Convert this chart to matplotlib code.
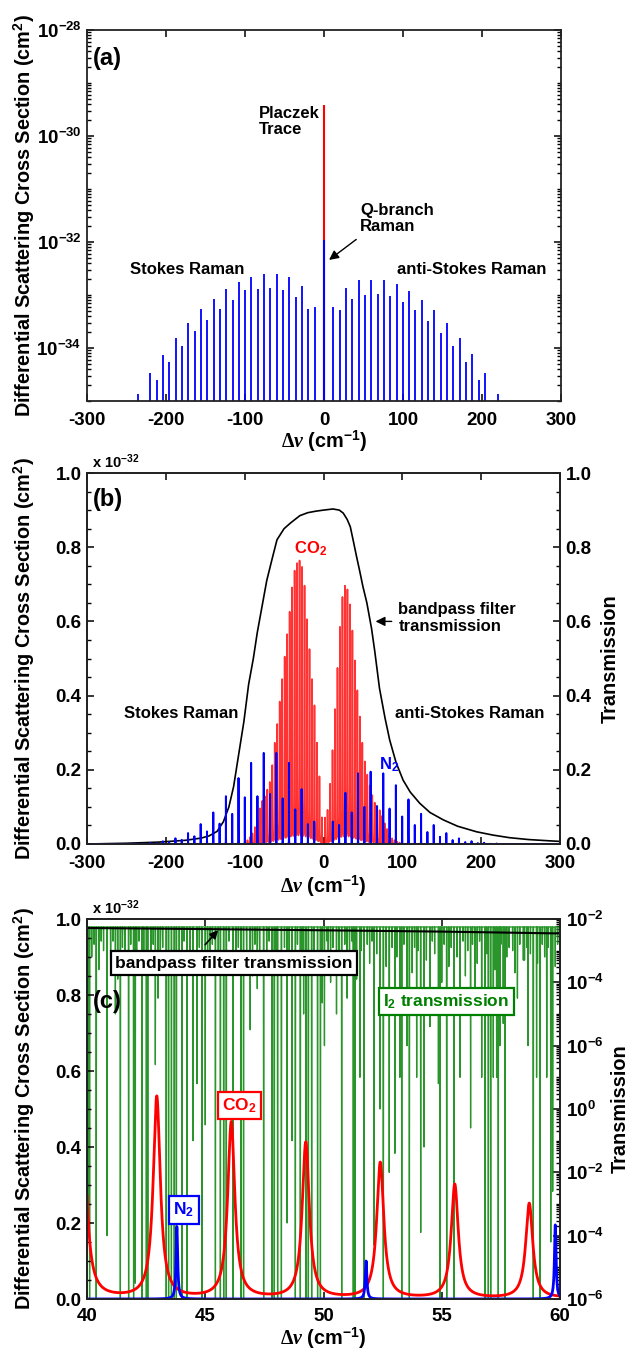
import numpy as np
import matplotlib
matplotlib.use('Agg')
import matplotlib.pyplot as plt
from matplotlib.ticker import FixedLocator, FixedFormatter, MultipleLocator, LogLocator, NullFormatter

plt.rcParams.update({
    'font.family': ['Liberation Sans', 'DejaVu Sans'],
    'font.weight': 'bold',
    'axes.unicode_minus': False,
    'mathtext.fontset': 'custom',
    'mathtext.rm': 'Liberation Serif',
    'mathtext.it': 'Liberation Serif:italic',
    'mathtext.bf': 'Liberation Sans:bold',
    'mathtext.default': 'bf',
})

# ---------------- data ----------------
# N2 rotational Raman line positions (cm-1, magnitude of shift)
n2_shift = [11.8, 19.8, 27.8, 35.8, 43.8, 51.8, 59.8, 67.8, 75.8, 83.8, 91.8, 99.8,
            107.8, 115.8, 123.8, 131.8, 139.8, 147.8, 155.8, 163.8, 171.8, 179.8,
            187.8, 195.8, 203.8, 211.8, 219.8, 227.8, 235.8]
# log10 cross sections (cm2) of N2 Stokes lines (negative shift)
n2_stokes_log = [-33.22, -33.27, -32.83, -33.03, -32.66, -32.91, -32.61, -32.87, -32.61,
                 -32.89, -32.66, -32.90, -32.75, -33.09, -32.89, -33.26, -33.07, -33.47,
                 -33.27, -33.68, -33.53, -33.96, -33.81, -34.27, -34.13, -34.60, -34.48,
                 -35.20, -34.87]
# log10 cross sections of N2 anti-Stokes lines (positive shift)
n2_anti_log = [-33.22, -33.29, -32.86, -33.07, -32.72, -33.00, -32.71, -32.99, -32.72,
               -33.02, -32.80, -33.13, -32.92, -33.29, -33.09, -33.49, -33.29, -33.71,
               -33.53, -33.97, -33.82, -34.27, -34.12, -34.60, -34.47, -35.20, -34.86]
n2_q_branch = 1.1e-32
placzek_trace = 3.8e-30

# CO2 rotational Raman line positions (cm-1, magnitude)
co2_shift = [2.0, 5.15, 8.3, 11.45, 14.6, 17.75, 20.9, 24.05, 27.2, 30.35, 33.5, 36.65,
             39.8, 42.95, 46.1, 49.25, 52.4, 55.55, 58.7, 61.85, 65.0, 68.15, 71.3, 74.45,
             77.6, 80.75, 83.9, 87.05, 90.2, 93.35, 96.5, 99.65]
# panel (b) heights, units of 1e-32 cm2
co2_stokes_b = [0.07, 0.18, 0.27, 0.37, 0.44, 0.52, 0.60, 0.69, 0.74, 0.757, 0.75, 0.73,
                0.685, 0.62, 0.56, 0.50, 0.44, 0.38, 0.32, 0.27, 0.21, 0.165, 0.145, 0.127,
                0.115, 0.095, 0.065, 0.045, 0.028, 0.018, 0.010, 0.006]
co2_anti_b = [0.07, 0.09, 0.16, 0.25, 0.36, 0.47, 0.58, 0.66, 0.69, 0.68, 0.64, 0.57,
              0.49, 0.41, 0.34, 0.27, 0.22, 0.185, 0.155, 0.13, 0.11, 0.10, 0.09, 0.075,
              0.055, 0.04, 0.025, 0.015, 0.010, 0.006, 0.004, 0.002]
# panel (c) zoomed CO2 anti-Stokes lines
co2_c_pos = [36.65, 39.8, 42.95, 46.1, 49.25, 52.4, 55.55, 58.7, 61.85]
co2_c_height = [0.66, 0.60, 0.53, 0.463, 0.41, 0.357, 0.30, 0.25, 0.21]
co2_hwhm = 0.18
n2_hwhm = 0.04

# bandpass filter transmission (panel b)
filt_x = [-300, -250, -210, -175, -155, -145, -135, -127, -120, -114, -108, -101, -95,
          -89, -84, -78, -72, -65, -59, -50, -42, -30, -20, -10, 0, 12, 20, 25, 30, 34,
          38, 42, 46, 50, 55, 61, 65, 71, 78, 84, 92, 101, 110, 122, 135, 152, 170, 194,
          215, 236, 260, 291, 300]
filt_t = [0.0, 0.002, 0.005, 0.010, 0.016, 0.022, 0.034, 0.06, 0.10, 0.155, 0.236, 0.33,
          0.43, 0.50, 0.57, 0.64, 0.71, 0.77, 0.82, 0.85, 0.865, 0.885, 0.893, 0.897, 0.90,
          0.903, 0.90, 0.892, 0.875, 0.855, 0.815, 0.774, 0.735, 0.694, 0.65, 0.58, 0.52,
          0.42, 0.34, 0.28, 0.22, 0.172, 0.14, 0.11, 0.085, 0.065, 0.048, 0.033, 0.024,
          0.017, 0.012, 0.008, 0.007]
# filter transmission as drawn in panel (c) (right log axis)
filt_c_x = [40, 45, 50, 55, 60]
filt_c_t = [0.52, 0.48, 0.44, 0.40, 0.35]

# I2 cell transmission (panel c): baseline level and absorption dips
i2_base = 0.56
# strong I2 lines, minimum transmission below the axis floor
i2_strong_pos = [40.11, 40.39, 41.41, 41.76, 41.97, 42.33, 42.51, 42.57, 43.35, 43.45,
                 43.57, 43.69, 43.78, 44.02, 44.23, 44.86, 45.43, 45.64, 45.78, 45.89,
                 46.17, 46.51, 46.62, 47.47, 47.82, 47.92, 48.06, 48.22, 48.81, 49.02,
                 49.26, 49.36, 49.50, 49.75, 49.87, 50.77, 51.26, 51.33, 51.71, 52.53,
                 53.31, 53.63, 54.93, 55.21, 55.52, 56.83, 56.97, 57.07, 57.39, 57.67,
                 58.87, 59.15]
# medium I2 lines: position and log10 of minimum transmission
i2_mid_pos = [40.05, 40.85, 41.20, 42.04, 42.89, 43.00, 44.48, 44.65, 45.00, 46.90,
              47.20, 48.46, 48.67, 49.16, 49.95, 50.04, 50.30, 50.55, 51.00, 51.54,
              52.14, 52.39, 52.78, 53.02, 53.23, 53.53, 53.94, 54.11, 54.25, 54.50,
              54.86, 55.00, 55.77, 56.22, 56.40, 56.69, 57.18, 57.32, 57.46, 57.60,
              58.20, 58.45, 58.65, 59.01, 59.44, 59.61, 59.69]
i2_mid_log = [-9.0, -10.0, -3.0, -11.5, -4.6, -2.5, -7.0, -5.2, -6.5, -3.5,
              -2.2, -9.6, -7.0, -3.0, -2.65, -4.0, -2.0, -3.0, -2.5, -5.0,
              -10.3, -6.0, -8.0, -7.4, -5.0, -4.0, -5.0, -9.9, -7.2, -3.4,
              -5.2, -2.0, -5.0, -6.6, -2.8, -5.0, -5.0, -5.0, -4.0, -3.3,
              -2.5, -1.3, -4.0, -5.0, -5.0, -10.2, -8.6]
# weak I2 lines near the top of the scale
i2_weak_pos = [40.2, 40.3, 40.5, 40.6, 40.7, 41.0, 41.1, 41.3, 41.5, 41.6, 41.85, 42.1,
               42.2, 42.4, 42.7, 42.8, 43.1, 43.2, 43.9, 44.1, 44.35, 44.75, 45.1, 45.2,
               45.3, 45.55, 46.0, 46.3, 46.4, 46.75, 47.0, 47.1, 47.3, 47.6, 47.7, 48.0,
               48.35, 48.55, 48.9, 49.1, 49.6, 50.15, 50.2, 50.4, 50.65, 50.9, 51.1, 51.2,
               51.4, 51.6, 51.85, 51.95, 52.05, 52.25, 52.65, 52.9, 53.1, 53.4, 53.75, 53.85,
               54.0, 54.35, 54.6, 54.7, 55.1, 55.3, 55.4, 55.65, 55.9, 56.0, 56.1, 56.3,
               56.5, 56.6, 56.9, 57.25, 57.5, 57.75, 57.85, 58.0, 58.1, 58.3, 58.5, 58.6,
               58.75, 59.05, 59.25, 59.35, 59.5, 59.8, 59.9]
i2_weak_log = [-1.2, -0.8, -1.6, -0.7, -1.0, -1.4, -0.7, -1.9, -0.9, -1.1, -0.8, -1.5,
               -0.7, -1.0, -1.3, -0.8, -1.7, -0.9, -1.1, -0.7, -1.4, -0.9, -1.0, -1.6,
               -0.8, -1.2, -0.7, -1.3, -0.9, -1.1, -1.8, -0.8, -1.0, -1.4, -0.7, -1.2,
               -0.9, -1.5, -0.8, -1.1, -1.0, -0.7, -1.3, -0.9, -1.6, -0.8, -1.2, -0.7,
               -1.9, -1.0, -0.8, -1.4, -0.7, -1.1, -1.5, -0.9, -1.2, -0.8, -1.7, -0.9,
               -1.0, -1.3, -0.7, -1.1, -0.8, -1.5, -0.9, -1.2, -0.7, -1.8, -1.0, -0.8,
               -1.4, -0.7, -1.1, -1.6, -0.8, -1.2, -0.9, -1.0, -1.7, -0.8, -1.3, -0.9,
               -1.1, -1.4, -0.8, -1.2, -0.9, -1.5, -0.8]
i2_floor_log = -14.0

# ---------------- helpers ----------------
def lorentz_sum(x, pos, height, hwhm):
    y = np.zeros_like(x)
    for p, h in zip(pos, height):
        y += h * hwhm**2 / ((x - p)**2 + hwhm**2)
    return y

def dip_trace(xmin, xmax, base, pos, logmin, hw=0.012):
    items = sorted(zip(pos, logmin))
    xs, ys = [xmin], [base]
    for p, lm in items:
        xs += [p - hw, p, p + hw]
        ys += [base, 10.0**lm, base]
    xs.append(xmax); ys.append(base)
    return np.array(xs), np.array(ys)

def bold_pow(exp):
    return r'$\mathbf{10^{%d}}$' % exp

XLABEL = r'$\mathrm{\Delta}\mathit{\nu}$ (cm$^{\mathbf{-1}}$)'
YLABEL = r'Differential Scattering Cross Section (cm$^{\mathbf{2}}$)'
TICK_FS = 13.5
LAB_FS = 14.3
ANN_FS = 12

fig = plt.figure(figsize=(6.28, 13.49), dpi=100)
W, H = 628.0, 1349.0
def rect(l, t, r, b):
    return [l / W, 1 - b / H, (r - l) / W, (b - t) / H]

axa = fig.add_axes(rect(87, 30, 561, 401))
axb = fig.add_axes(rect(87, 473, 560, 844))
axc = fig.add_axes(rect(87, 919, 560, 1299))

def style(ax, xpad=8):
    for s in ax.spines.values():
        s.set_linewidth(1.3)
        s.set_color('#222222')
    ax.tick_params(direction='in', labelsize=TICK_FS, width=1.1, length=5, pad=4)
    ax.tick_params(axis='x', pad=xpad)
    ax.tick_params(which='minor', direction='in', width=1.0, length=3)
    for lab in ax.get_xticklabels() + ax.get_yticklabels():
        lab.set_fontweight('bold')

def left_label(ax):
    ax.set_ylabel(YLABEL, fontsize=LAB_FS, fontweight='bold')
    ax.yaxis.set_label_coords(-0.106, 0.5)

def right_label(ax, x):
    ax.set_ylabel('Transmission', fontsize=LAB_FS, fontweight='bold')
    ax.yaxis.set_label_coords(x, 0.5)

def x_label(ax, y):
    ax.set_xlabel(XLABEL, fontsize=LAB_FS, fontweight='bold')
    ax.xaxis.set_label_coords(0.5, y)
    ax.xaxis.label.set_va('center')

# ---------------- panel (a) ----------------
ymin_a = 1e-36
sx = -np.array(n2_shift)
ax_x = np.array(n2_shift[:len(n2_anti_log)])
axa.vlines(sx, ymin_a, 10.0**np.array(n2_stokes_log), color='blue', lw=1.3)
axa.vlines(ax_x, ymin_a, 10.0**np.array(n2_anti_log), color='blue', lw=1.3)
axa.vlines([0], ymin_a, [placzek_trace], color='red', lw=1.5)
axa.vlines([0], ymin_a, [n2_q_branch], color='blue', lw=1.5)
axa.set_yscale('log')
axa.set_xlim(-300, 300)
axa.set_ylim(1e-35, 1e-28)
axa.set_xticks([-300, -200, -100, 0, 100, 200, 300])
axa.set_xticklabels(['-300', '-200', '-100', '0', '100', '200', '300'])
axa.yaxis.set_major_locator(FixedLocator([1e-34, 1e-32, 1e-30, 1e-28]))
axa.yaxis.set_major_formatter(FixedFormatter([bold_pow(-34), bold_pow(-32), bold_pow(-30), bold_pow(-28)]))
axa.yaxis.set_minor_locator(LogLocator(base=10, subs=np.arange(1, 10), numticks=50))
axa.yaxis.set_minor_formatter(NullFormatter())
axa.tick_params(top=True, right=True, which='both')
style(axa)
left_label(axa)
x_label(axa, -0.108)
axa.text(0.012, 0.955, '(a)', transform=axa.transAxes, fontsize=17, fontweight='bold', va='top')
axa.text(-83, 10**-29.73, 'Placzek\nTrace', fontsize=ANN_FS, fontweight='bold', va='center', ha='left', linespacing=1.1)
axa.text(45.6, 10**-31.56, 'Q-branch\nRaman', fontsize=ANN_FS, fontweight='bold', va='center', ha='left', linespacing=1.1)
axa.annotate('', xy=(3.6, 10**-32.37), xytext=(43.6, 10**-31.92),
             arrowprops=dict(arrowstyle='-|>', color='black', lw=1.0, mutation_scale=14))
axa.text(-173, 10**-32.52, 'Stokes Raman', fontsize=ANN_FS, fontweight='bold', ha='center', va='center')
axa.text(187, 10**-32.52, 'anti-Stokes Raman', fontsize=ANN_FS, fontweight='bold', ha='center', va='center')

# ---------------- panel (b) ----------------
xb = np.arange(-300, 300.0001, 0.01)
co2_pos_all = list(-np.array(co2_shift)) + list(co2_shift)
co2_h_all = list(co2_stokes_b) + list(co2_anti_b)
n2_pos_all = list(-np.array(n2_shift)) + list(n2_shift[:len(n2_anti_log)])
n2_h_all = list(10.0**(np.array(n2_stokes_log) + 32)) + list(10.0**(np.array(n2_anti_log) + 32))
yb_co2 = lorentz_sum(xb, co2_pos_all, co2_h_all, co2_hwhm)
yb_n2 = lorentz_sum(xb, n2_pos_all, n2_h_all, n2_hwhm)

axb2 = axb.twinx()
axb2.plot(filt_x, filt_t, color='black', lw=1.2)
axb2.set_ylim(0, 1)
axb.set_zorder(axb2.get_zorder() + 1)
axb.patch.set_visible(False)
axb.plot(xb, yb_co2, color='red', lw=1.2, alpha=0.8)
axb.plot(xb, yb_n2, color='blue', lw=1.4)
axb.set_xlim(-300, 300)
axb.set_ylim(0, 1)
axb.set_xticks([-300, -200, -100, 0, 100, 200, 300])
axb.set_xticklabels(['-300', '-200', '-100', '0', '100', '200', '300'])
axb.set_yticks([0, 0.2, 0.4, 0.6, 0.8, 1.0])
axb.set_yticklabels(['0.0', '0.2', '0.4', '0.6', '0.8', '1.0'])
axb.yaxis.set_minor_locator(MultipleLocator(0.05))
axb.tick_params(top=True, which='both')
axb2.set_yticks([0, 0.2, 0.4, 0.6, 0.8, 1.0])
axb2.set_yticklabels(['0.0', '0.2', '0.4', '0.6', '0.8', '1.0'])
axb2.yaxis.set_minor_locator(MultipleLocator(0.05))
style(axb); style(axb2)
left_label(axb)
right_label(axb2, 1.087)
x_label(axb, -0.113)
axb.text(0.012, 0.96, '(b)', transform=axb.transAxes, fontsize=17, fontweight='bold', va='top')
axb.text(0.01, 1.005, r'x 10$^{\mathbf{-32}}$', transform=axb.transAxes, fontsize=10.5, fontweight='bold', va='bottom')
axb.text(-17, 0.795, r'CO$_{\mathbf{2}}$', color='red', fontsize=ANN_FS, fontweight='bold', ha='center', va='center')
axb.text(83, 0.213, r'N$_{\mathbf{2}}$', color='blue', fontsize=ANN_FS, fontweight='bold', ha='center', va='center')
axb.text(-181, 0.353, 'Stokes Raman', fontsize=ANN_FS, fontweight='bold', ha='center', va='center')
axb.text(185, 0.353, 'anti-Stokes Raman', fontsize=ANN_FS, fontweight='bold', ha='center', va='center')
axb.text(95, 0.61, 'bandpass filter\ntransmission', fontsize=ANN_FS, fontweight='bold', ha='left', va='center', linespacing=1.15)
axb.annotate('', xy=(62.5, 0.6), xytext=(90, 0.6),
             arrowprops=dict(arrowstyle='-|>', color='black', lw=1.0, mutation_scale=14))

# ---------------- panel (c) ----------------
xc = np.arange(40, 60.0001, 0.002)
yc_co2 = lorentz_sum(xc, co2_c_pos, co2_c_height, co2_hwhm)
yc_n2 = lorentz_sum(xc, n2_shift[:len(n2_anti_log)], 10.0**(np.array(n2_anti_log) + 32), n2_hwhm)

axc2 = axc.twinx()
i2x_all = list(i2_strong_pos) + list(i2_mid_pos) + list(i2_weak_pos)
i2l_all = [i2_floor_log] * len(i2_strong_pos) + list(i2_mid_log) + list(i2_weak_log)
gx, gy = dip_trace(40, 60, i2_base, i2x_all, i2l_all)
axc2.plot(gx, gy, color='#138a13', lw=0.95, alpha=0.9)
axc2.plot(filt_c_x, filt_c_t, color='black', lw=1.5)
axc2.set_yscale('log')
axc2.set_ylim(1e-12, 1)
axc2.yaxis.set_major_locator(FixedLocator([1e-12, 1e-10, 1e-8, 1e-6, 1e-4, 1e-2, 1e0]))
axc2.yaxis.set_major_formatter(FixedFormatter([bold_pow(-6), bold_pow(-4), bold_pow(-2), bold_pow(0),
                                               bold_pow(-6), bold_pow(-4), bold_pow(-2)]))
axc2.yaxis.set_minor_locator(LogLocator(base=10, subs=np.arange(1, 10), numticks=50))
axc2.yaxis.set_minor_formatter(NullFormatter())
axc.set_zorder(axc2.get_zorder() + 1)
axc.patch.set_visible(False)
axc.plot(xc, yc_co2, color='red', lw=2.0)
axc.plot(xc, yc_n2, color='blue', lw=2.0)
axc.set_xlim(40, 60)
axc.set_ylim(0, 1)
axc.set_xticks([40, 45, 50, 55, 60])
axc.set_yticks([0, 0.2, 0.4, 0.6, 0.8, 1.0])
axc.set_yticklabels(['0.0', '0.2', '0.4', '0.6', '0.8', '1.0'])
axc.yaxis.set_minor_locator(MultipleLocator(0.05))
axc.tick_params(top=True, which='major')
style(axc, xpad=6.5); style(axc2)
left_label(axc)
right_label(axc2, 1.107)
x_label(axc, -0.104)
axc.text(0.012, 0.783, '(c)', transform=axc.transAxes, fontsize=17, fontweight='bold', va='center')
axc.text(0.01, 1.005, r'x 10$^{\mathbf{-32}}$', transform=axc.transAxes, fontsize=10.5, fontweight='bold', va='bottom')
box = dict(boxstyle='square,pad=0.25', fc='white', lw=1.6)
axc.text(46.2, 0.8835, 'bandpass filter transmission', fontsize=12.5, fontweight='bold', ha='center', va='center',
         bbox=dict(box, ec='black'))
axc.annotate('', xy=(45.62, 0.976), xytext=(44.92, 0.927),
             arrowprops=dict(arrowstyle='-|>', color='black', lw=1.2, mutation_scale=12))
axc.text(55.2, 0.783, r'I$_{\mathbf{2}}$ transmission', color='green', fontsize=12.5, fontweight='bold',
         ha='center', va='center', bbox=dict(box, ec='green'))
axc.text(46.44, 0.509, r'CO$_{\mathbf{2}}$', color='red', fontsize=12.5, fontweight='bold',
         ha='center', va='center', bbox=dict(box, ec='red'))
axc.text(44.1, 0.234, r'N$_{\mathbf{2}}$', color='blue', fontsize=12.5, fontweight='bold',
         ha='center', va='center', bbox=dict(box, ec='blue'))

fig.savefig('out.png', dpi=100)
